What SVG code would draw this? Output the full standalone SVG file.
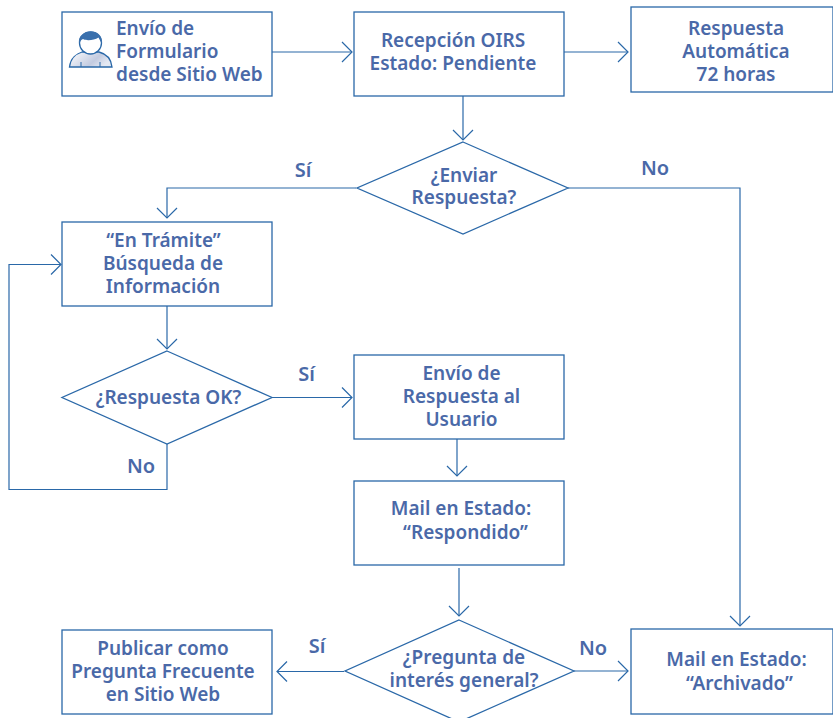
<svg xmlns="http://www.w3.org/2000/svg" width="833" height="718" viewBox="0 0 833 718">
<style>
.box{fill:#fff;stroke:#2a68a8;stroke-width:1.3}
.c{fill:none;stroke:#2a68a8;stroke-width:1.2}
text{font-family:"Noto Sans","DejaVu Sans",sans-serif;font-size:19px;font-weight:600;fill:#4a69a8;text-anchor:middle}
.s{text-anchor:start}
.l{font-size:20px}
</style>
<defs>
<marker id="a" markerUnits="userSpaceOnUse" markerWidth="24" markerHeight="24" refX="13" refY="12" orient="auto" overflow="visible">
<path d="M3 2L13 12L3 22" fill="none" stroke="#2a68a8" stroke-width="1.2"/>
</marker>
<linearGradient id="g" x1="0" y1="0" x2="1" y2="0.4"><stop offset="0" stop-color="#fff"/><stop offset="0.7" stop-color="#c3cbe0"/><stop offset="1" stop-color="#e4e8f2"/></linearGradient>
</defs>
<g id="connectors">
<path class="c" marker-end="url(#a)" d="M271 52H352"/>
<path class="c" marker-end="url(#a)" d="M564 52H628"/>
<path class="c" marker-end="url(#a)" d="M463 96V140"/>
<path class="c" marker-end="url(#a)" d="M356 188H167V218"/>
<path class="c" marker-end="url(#a)" d="M568 188H740V626"/>
<path class="c" marker-end="url(#a)" d="M167 306V349"/>
<path class="c" marker-end="url(#a)" d="M272 397.500H352"/>
<path class="c" marker-end="url(#a)" d="M167 444V489.500H9V264.500H61"/>
<path class="c" marker-end="url(#a)" d="M457 439V476"/>
<path class="c" marker-end="url(#a)" d="M459 568V616"/>
<path class="c" marker-end="url(#a)" d="M344 671.500H277"/>
<path class="c" marker-end="url(#a)" d="M574 671H628"/>
</g>
<g id="n1"><rect class="box" x="62" y="12" width="210" height="84"/>
<g id="user-icon">
<path d="M69.500 67C70.500 58 77 53.500 82 52H99C105 53.500 111 58 112 67Z" fill="url(#g)" stroke="#2a68a8" stroke-width="1.3"/>
<circle cx="90.500" cy="43" r="11" fill="#fff" stroke="#2a68a8" stroke-width="1.3"/>
<path d="M79 43C78 36 84 31.500 91 31.500C98 31.500 102.500 36 102 43C100.500 41.500 99.500 39.500 98.500 37.500C94 40.500 86 41 83 39C81 40 80 41.500 79 43Z" fill="#3a70ad"/>
<path d="M81 62V67M100 62V67" stroke="#2a68a8" fill="none"/>
</g>
<text class="s" x="116" y="35">Envío de</text><text class="s" x="116" y="58">Formulario</text><text class="s" x="116" y="81">desde Sitio Web</text></g>
<g id="n2"><rect class="box" x="354" y="12" width="210" height="84"/><text x="453" y="46.500">Recepción OIRS</text><text x="453" y="69.500">Estado: Pendiente</text></g>
<g id="n3"><rect class="box" x="631" y="7" width="202" height="85"/><text x="736" y="34.500">Respuesta</text><text x="736" y="57.500">Automática</text><text x="736" y="80.500">72 horas</text></g>
<g id="d1"><polygon class="box" points="463,142 568,188 463,234 357,188"/><text x="464" y="182">¿Enviar</text><text x="464" y="204">Respuesta?</text></g>
<g id="n4"><rect class="box" x="62" y="222" width="210" height="84"/><text x="163.500" y="247">“En Trámite”</text><text x="163" y="270">Búsqueda de</text><text x="163" y="293">Información</text></g>
<g id="d2"><polygon class="box" points="167,351 272,397.500 167,444 62,397.500"/><text x="168.500" y="404">¿Respuesta OK?</text></g>
<g id="n5"><rect class="box" x="354" y="355" width="210" height="84"/><text x="461.500" y="380">Envío de</text><text x="461.500" y="403">Respuesta al</text><text x="461.500" y="426">Usuario</text></g>
<g id="n6"><rect class="box" x="354" y="481" width="210" height="84"/><text x="461" y="515">Mail en Estado:</text><text x="465.500" y="538.500">“Respondido”</text></g>
<g id="d3"><polygon class="box" points="459,620 574,671 459,722 345,671"/><text x="464" y="664">¿Pregunta de</text><text x="464" y="687">interés general?</text></g>
<g id="n7"><rect class="box" x="62" y="630" width="210" height="84"/><text x="163" y="655">Publicar como</text><text x="163" y="678">Pregunta Frecuente</text><text x="163" y="701">en Sitio Web</text></g>
<g id="n8"><rect class="box" x="631" y="629" width="202" height="85"/><text x="736.500" y="666">Mail en Estado:</text><text x="739.500" y="689.500">“Archivado”</text></g>
<g id="labels"><text class="l" x="303" y="177">Sí</text><text class="l" x="655" y="175">No</text><text class="l" x="306.500" y="381">Sí</text><text class="l" x="141" y="473">No</text><text class="l" x="317" y="653">Sí</text><text class="l" x="593" y="655">No</text></g>
</svg>
